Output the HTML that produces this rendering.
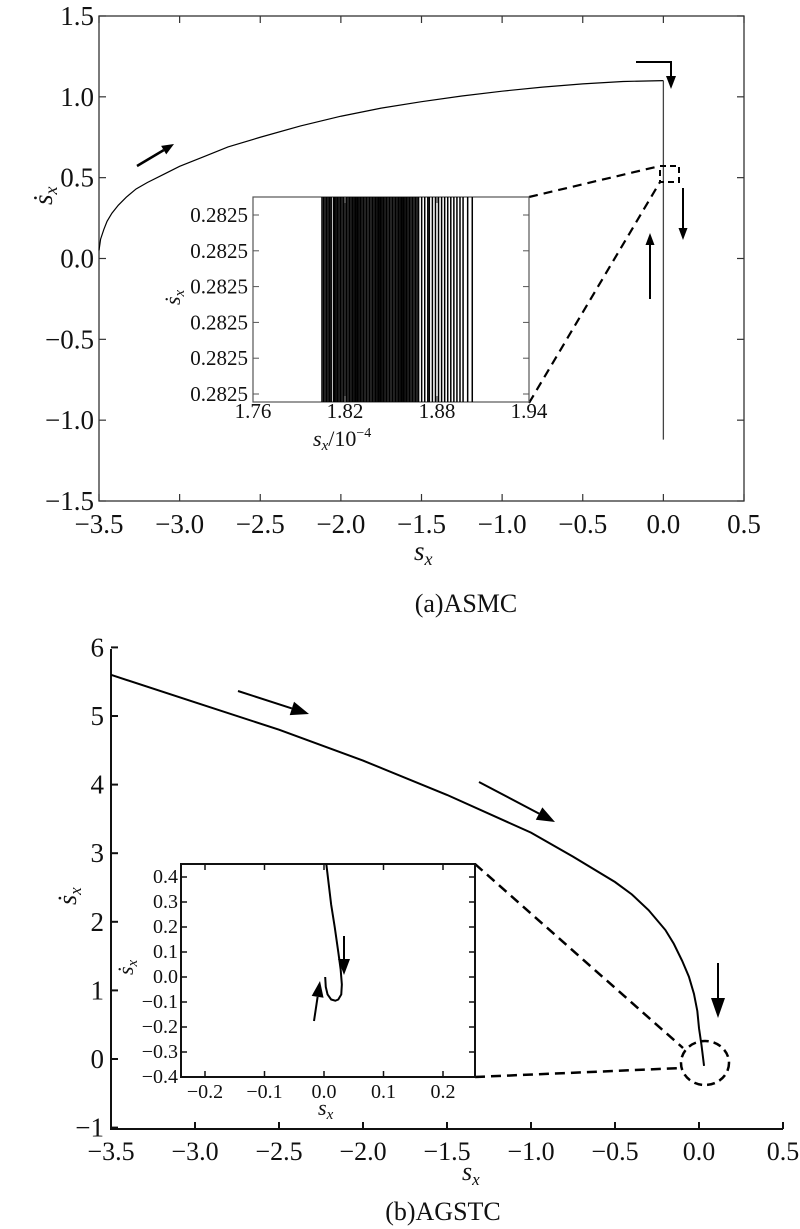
<!DOCTYPE html>
<html><head><meta charset="utf-8"><style>
html,body{margin:0;padding:0;background:#fff}
svg{display:block}
text{font-family:"Liberation Serif",serif;fill:#111}
</style></head><body>
<svg id="fig" width="800" height="1229" viewBox="0 0 800 1229" xmlns="http://www.w3.org/2000/svg">
<g id="top"></g>
<g id="bot"></g>
</svg>
<script>
// ---- Chart (a) data ----
const aXTicks = [-3.5,-3.0,-2.5,-2.0,-1.5,-1.0,-0.5,0.0,0.5];
const aYTicks = [-1.5,-1.0,-0.5,0.0,0.5,1.0,1.5];
const aCurveX = [-3.5,-3.49,-3.47,-3.45,-3.42,-3.38,-3.33,-3.27,-3.2,-3.1,-3.0,-2.85,-2.7,-2.5,-2.25,-2.0,-1.75,-1.5,-1.25,-1.0,-0.75,-0.5,-0.25,0];
const aCurveY = [0.05,0.12,0.18,0.23,0.28,0.33,0.38,0.43,0.47,0.52,0.57,0.63,0.69,0.75,0.82,0.88,0.93,0.97,1.005,1.035,1.06,1.08,1.095,1.1];
const aVertX = [0.0, 0.0];
const aVertY = [1.1, -1.12];
// inset (a)
const aInXTicks = [1.76,1.82,1.88,1.94];
const aInYTickLabels = ["0.2825","0.2825","0.2825","0.2825","0.2825","0.2825"];
const aInLines = [1.805,1.806,1.807,1.808,1.809,1.81,1.811,1.8125,1.813,1.814,1.815,1.816,1.817,1.818,1.819,1.82,1.821,1.822,1.823,1.824,1.825,1.826,1.827,1.828,1.829,1.83,1.831,1.832,1.833,1.834,1.835,1.836,1.837,1.838,1.839,1.84,1.841,1.842,1.843,1.844,1.845,1.846,1.847,1.848,1.849,1.85,1.851,1.852,1.853,1.854,1.855,1.856,1.857,1.858,1.859,1.86,1.861,1.862,1.863,1.864,1.865,1.866,1.867,1.868,1.87,1.872,1.874,1.875,1.877,1.879,1.881,1.883,1.885,1.887,1.889,1.891,1.893,1.895,1.897,1.9,1.903];
// ---- Chart (b) data ----
const bXTicks = [-3.5,-3.0,-2.5,-2.0,-1.5,-1.0,-0.5,0.0,0.5];
const bXTickLabels = ["\u22123.5","\u22123.0","\u22122.5","\u22122.0","\u22121.5","\u22121.0","\u22120.5","0.0","0.5"];
const bYTicks = [-1,0,1,2,3,4,5,6];
const bCurveX = [-3.5,-3.0,-2.5,-2.0,-1.5,-1.0,-0.75,-0.5,-0.4,-0.3,-0.2,-0.15,-0.1,-0.06,-0.03,-0.01,0,0.015,0.025,0.03];
const bCurveY = [5.6,5.2,4.8,4.35,3.85,3.3,2.95,2.58,2.4,2.17,1.88,1.68,1.43,1.2,0.95,0.7,0.45,0.2,0.0,-0.1];
const bInXTicks = [-0.2,-0.1,0.0,0.1,0.2];
const bInYTicks = [-0.4,-0.3,-0.2,-0.1,0.0,0.1,0.2,0.3,0.4];
const bInCurveX = [0.004,0.008,0.012,0.018,0.024,0.028,0.030,0.029,0.024,0.019,0.012,0.006,0.003,0.002];
const bInCurveY = [0.45,0.37,0.29,0.2,0.10,0.03,-0.03,-0.07,-0.09,-0.095,-0.09,-0.07,-0.04,0.0];

const NS="http://www.w3.org/2000/svg";
function mk(tag, attrs, parent){const e=document.createElementNS(NS,tag);for(const k in attrs)e.setAttribute(k,attrs[k]);parent.appendChild(e);return e;}
function fmt(v){const s=Math.abs(v).toFixed(1);return (v<0?"\u2212":"")+s;}
function arrow(p,x1,y1,x2,y2,w,hl,hw,name){
  const g=mk('g',{},p);
  
  
  const dx=x2-x1,dy=y2-y1,L=Math.hypot(dx,dy),ux=dx/L,uy=dy/L;
  const bx=x2-ux*hl,by=y2-uy*hl;
  mk('line',{x1:x1,y1:y1,x2:bx,y2:by,stroke:'#000','stroke-width':w},g);
  mk('polygon',{points:`${x2},${y2} ${bx-uy*hw},${by+ux*hw} ${bx+uy*hw},${by-ux*hw}`,fill:'#000'},g);
}

// ===== Chart (a) =====
const T=document.getElementById('top');
const X1=v=>99+(v+3.5)*161.25, Y1=v=>501-(v+1.5)*161.67;
const frame=mk('rect',{x:99,y:16,width:645,height:485,fill:'none',stroke:'#333','stroke-width':1.3},T);


aXTicks.forEach(v=>{
  const x=X1(v);
  mk('line',{x1:x,y1:501,x2:x,y2:494,stroke:'#333','stroke-width':1.2},T);
  mk('line',{x1:x,y1:16,x2:x,y2:23,stroke:'#333','stroke-width':1.2},T);
  const t=mk('text',{x:x,y:533,'font-size':27,'text-anchor':'middle'},T);t.textContent=fmt(v);
  
  
});
aYTicks.forEach(v=>{
  const y=Y1(v);
  mk('line',{x1:99,y1:y,x2:106,y2:y,stroke:'#333','stroke-width':1.2},T);
  mk('line',{x1:744,y1:y,x2:737,y2:y,stroke:'#333','stroke-width':1.2},T);
  const t=mk('text',{x:94,y:y+9,'font-size':27,'text-anchor':'end'},T);t.textContent=fmt(v);
  
  
});
const ac=mk('polyline',{points:aCurveX.map((v,i)=>X1(v)+','+Y1(aCurveY[i])).join(' '),fill:'none',stroke:'#000','stroke-width':1.2},T);


const av=mk('line',{x1:X1(aVertX[0]),y1:Y1(aVertY[0]),x2:X1(aVertX[1]),y2:Y1(aVertY[1]),stroke:'#444','stroke-width':1.3},T);


// axis labels
let t=mk('text',{x:414,y:560,'font-size':27,'font-style':'italic'},T);t.innerHTML='s<tspan font-size="18" dy="5">x</tspan>';


t=mk('text',{x:0,y:0,'font-size':27,'font-style':'italic',transform:'translate(52,205) rotate(-90)'},T);t.innerHTML='ṡ<tspan font-size="18" dy="5">x</tspan>';


t=mk('text',{x:466,y:612,'font-size':26,'text-anchor':'middle'},T);t.textContent='(a)ASMC';


// arrows
arrow(T,137,166,174,144,2.5,12,5,'direction-arrow-a1');
const bent=mk('polyline',{points:'636,62 671,62 671,80',fill:'none',stroke:'#000','stroke-width':2},T);


mk('polygon',{points:'671,89 666,76 676,76',fill:'#000'},T);
arrow(T,683,188,683,240,2,12,4.5,'direction-arrow-a2');
arrow(T,650,299,650,233,2,12,4.5,'direction-arrow-a3');
// zoom rect + connectors
const zr=mk('rect',{x:660,y:166,width:19,height:16,fill:'none',stroke:'#000','stroke-width':2,'stroke-dasharray':'6,4'},T);


mk('line',{x1:529,y1:197,x2:660,y2:166,stroke:'#000','stroke-width':2.2,'stroke-dasharray':'9,6'},T);
mk('line',{x1:529,y1:403,x2:660,y2:182,stroke:'#000','stroke-width':2.2,'stroke-dasharray':'9,6'},T);
// inset (a)
const IX=v=>253+(v-1.76)/0.18*276;
const ia=mk('g',{},T);


mk('rect',{x:253,y:197,width:276,height:205,fill:'#fff',stroke:'#555','stroke-width':1.2},ia);
aInLines.forEach(v=>{
  const l=mk('line',{x1:IX(v),y1:197,x2:IX(v),y2:402,stroke:'#000','stroke-width':1.5},ia);
  
  
});
aInXTicks.forEach(v=>{
  const x=IX(v);
  mk('line',{x1:x,y1:402,x2:x,y2:396,stroke:'#555'},ia);
  mk('line',{x1:x,y1:197,x2:x,y2:203,stroke:'#555'},ia);
  const tt=mk('text',{x:x,y:418,'font-size':21,'text-anchor':'middle'},ia);tt.textContent=v.toFixed(2);
  
  
});
aInYTickLabels.forEach((s,i)=>{
  const y=215+i*35.8;
  mk('line',{x1:253,y1:y,x2:259,y2:y,stroke:'#555'},ia);
  mk('line',{x1:529,y1:y,x2:523,y2:y,stroke:'#555'},ia);
  const tt=mk('text',{x:248,y:y+7,'font-size':21,'text-anchor':'end'},ia);tt.textContent=s;
  
  
});
t=mk('text',{x:313,y:446,'font-size':22,'font-style':'italic'},ia);t.innerHTML='s<tspan font-size="15" dy="4">x</tspan><tspan dy="-4" font-style="normal">/10</tspan><tspan font-size="14" dy="-9" font-style="normal">−4</tspan>';


t=mk('text',{x:0,y:0,'font-size':22,'font-style':'italic',transform:'translate(180,305) rotate(-90)'},ia);t.innerHTML='ṡ<tspan font-size="15" dy="4">x</tspan>';



// ===== Chart (b) =====
const B=document.getElementById('bot');
const X2=v=>111+(v+3.5)*168, Y2=v=>1059-v*68.6;
const ax=mk('polyline',{points:'111,649 111,1129 783,1129',fill:'none',stroke:'#111','stroke-width':2},B);


bXTicks.forEach((v,i)=>{
  const x=X2(v);
  mk('line',{x1:x,y1:1129,x2:x,y2:1122,stroke:'#111','stroke-width':2},B);
  const tt=mk('text',{x:x,y:1160,'font-size':26,'text-anchor':'middle'},B);tt.textContent=bXTickLabels[i];
  
  
});
bYTicks.forEach(v=>{
  const y=Y2(v);
  mk('line',{x1:111,y1:y,x2:118,y2:y,stroke:'#111','stroke-width':2},B);
  const tt=mk('text',{x:104,y:y+9,'font-size':27,'text-anchor':'end'},B);tt.textContent=v<0?'\u2212'+Math.abs(v):String(v);
  
  
});
const bc=mk('polyline',{points:bCurveX.map((v,i)=>X2(v)+','+Y2(bCurveY[i])).join(' '),fill:'none',stroke:'#000','stroke-width':2},B);


t=mk('text',{x:462,y:1180,'font-size':26,'font-style':'italic'},B);t.innerHTML='s<tspan font-size="17" dy="5">x</tspan>';


t=mk('text',{x:0,y:0,'font-size':26,'font-style':'italic',transform:'translate(76,905) rotate(-90)'},B);t.innerHTML='ṡ<tspan font-size="17" dy="5">x</tspan>';


t=mk('text',{x:443,y:1220,'font-size':26,'text-anchor':'middle'},B);t.textContent='(b)AGSTC';


arrow(B,238,691,309,714,2,18,7,'direction-arrow-b1');
arrow(B,479,782,555,822,2,18,7,'direction-arrow-b2');
arrow(B,718,963,718,1018,2,20,7,'direction-arrow-b3');
const zc=mk('ellipse',{cx:705,cy:1063,rx:24,ry:22,fill:'none',stroke:'#000','stroke-width':2.5,'stroke-dasharray':'8,5'},B);


mk('line',{x1:475,y1:864,x2:683,y2:1048,stroke:'#000','stroke-width':2.5,'stroke-dasharray':'10,6'},B);
mk('line',{x1:475,y1:1077,x2:682,y2:1068,stroke:'#000','stroke-width':2.5,'stroke-dasharray':'10,6'},B);
// inset (b)
const BX=v=>324+v*595, BY=v=>977-v*250;
const ib=mk('g',{},B);


mk('rect',{x:181,y:864,width:294,height:213,fill:'#fff',stroke:'#111','stroke-width':2},ib);
bInXTicks.forEach(v=>{
  const x=BX(v);
  mk('line',{x1:x,y1:1077,x2:x,y2:1071,stroke:'#111','stroke-width':1.5},ib);
  mk('line',{x1:x,y1:864,x2:x,y2:870,stroke:'#111','stroke-width':1.5},ib);
  const tt=mk('text',{x:x,y:1098,'font-size':20,'text-anchor':'middle'},ib);tt.textContent=fmt(v);
  
  
});
bInYTicks.forEach(v=>{
  const y=BY(v);
  mk('line',{x1:181,y1:y,x2:187,y2:y,stroke:'#111','stroke-width':1.5},ib);
  mk('line',{x1:475,y1:y,x2:469,y2:y,stroke:'#111','stroke-width':1.5},ib);
  const tt=mk('text',{x:178,y:y+6,'font-size':20,'text-anchor':'end'},ib);tt.textContent=fmt(v);
  
  
});
const ic=mk('polyline',{points:bInCurveX.map((v,i)=>BX(v)+','+BY(bInCurveY[i])).join(' '),fill:'none',stroke:'#000','stroke-width':2},ib);


arrow(ib,344,936,344,975,2,16,6,'inset-arrow-down');
arrow(ib,314,1021,320,981,2,16,6,'inset-arrow-up');
t=mk('text',{x:318,y:1115,'font-size':22,'font-style':'italic'},ib);t.innerHTML='s<tspan font-size="15" dy="4">x</tspan>';


t=mk('text',{x:0,y:0,'font-size':22,'font-style':'italic',transform:'translate(133,975) rotate(-90)'},ib);t.innerHTML='ṡ<tspan font-size="15" dy="4">x</tspan>';


</script>
</body></html>
